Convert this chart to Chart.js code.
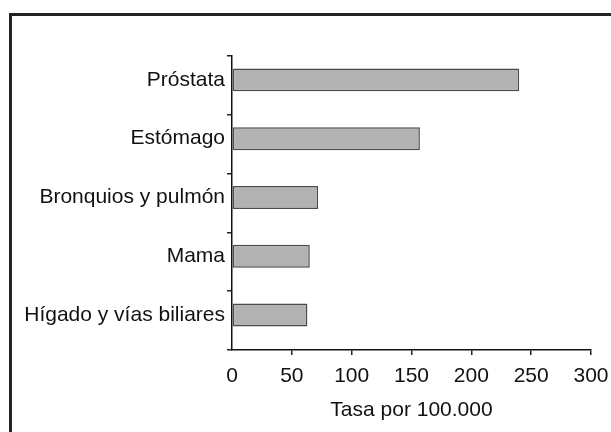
<!DOCTYPE html>
<html>
<head>
<meta charset="utf-8">
<script src="https://cdn.jsdelivr.net/npm/chart.js@4/dist/chart.umd.min.js"></script>
<style>
  html, body { margin: 0; padding: 0; background: #fff; }
  #wrap { position: relative; width: 611px; height: 432px; overflow: hidden; }
  #frame { position: absolute; left: 9px; top: 13px; width: 700px; height: 500px;
           border-left: 3px solid #222; border-top: 3px solid #222; box-sizing: border-box; }
  canvas { position: absolute; left: 0; top: 0; }
</style>
</head>
<body>
<div id="wrap">
  <div id="frame"></div>
  <canvas id="c" width="611" height="432"></canvas>
</div>
<script>
const categories = ['Próstata', 'Estómago', 'Bronquios y pulmón', 'Mama', 'Hígado y vías biliares'];
const rates = [240, 157, 72, 65, 63];
const xTicks = [0, 50, 100, 150, 200, 250, 300];
const xTitle = 'Tasa por 100.000';

const FONT = "'Liberation Sans', Arial, sans-serif";
const SHIFT = 0.094; // bars/labels sit slightly above the centre of each band

new Chart(document.getElementById('c'), {
  type: 'bar',
  data: {
    labels: categories,
    datasets: [{
      data: rates.map((v, i) => ({ x: v, y: i })),
      yAxisID: 'yb',
      backgroundColor: '#b2b2b2',
      borderColor: '#4a4a4a',
      borderWidth: 1.5,
      borderSkipped: false,
      barPercentage: 0.39,
      categoryPercentage: 1
    }]
  },
  options: {
    indexAxis: 'y',
    responsive: false,
    devicePixelRatio: 1,
    animation: false,
    layout: { padding: { top: 56, right: 20, bottom: 0, left: 0 } },
    plugins: { legend: { display: false }, tooltip: { enabled: false } },
    scales: {
      x: {
        type: 'linear',
        min: xTicks[0],
        max: xTicks[xTicks.length - 1],
        afterBuildTicks: (s) => { s.ticks = xTicks.map(v => ({ value: v })); },
        afterFit: (s) => { s.height = 82; s.paddingRight = 0; s.paddingLeft = 0; },
        grid: {
          drawOnChartArea: false,
          tickLength: 5,
          lineWidth: 1.5,
          color: (ctx) => ctx.index === 0 ? 'rgba(0,0,0,0)' : '#222'
        },
        border: { color: '#111', width: 1.5 },
        ticks: {
          color: '#111',
          padding: 9,
          font: { family: FONT, size: 21 },
          maxRotation: 0
        },
        title: {
          display: true,
          text: xTitle,
          color: '#111',
          font: { family: FONT, size: 21 },
          padding: { top: 0, bottom: 9 }
        }
      },
      y: {
        type: 'category',
        position: 'left',
        offset: true,
        afterFit: (s) => { s.width = 232; },
        grid: {
          offset: true,
          drawOnChartArea: false,
          tickLength: 5,
          lineWidth: 1.5,
          color: '#222'
        },
        border: { color: '#111', width: 1.5 },
        ticks: {
          color: '#111',
          padding: 2,
          labelOffset: -5.5,
          font: { family: FONT, size: 21 }
        }
      },
      yb: {
        type: 'linear',
        position: 'left',
        display: false,
        offset: false,
        reverse: true,
        min: -0.5 + SHIFT,
        max: categories.length - 0.5 + SHIFT,
        grid: { offset: false },
        afterBuildTicks: (s) => { s.ticks = categories.map((c, i) => ({ value: i })); },
        afterFit: (s) => { s.width = 0; s.paddingTop = 0; s.paddingBottom = 0; }
      }
    }
  }
});
</script>
</body>
</html>
